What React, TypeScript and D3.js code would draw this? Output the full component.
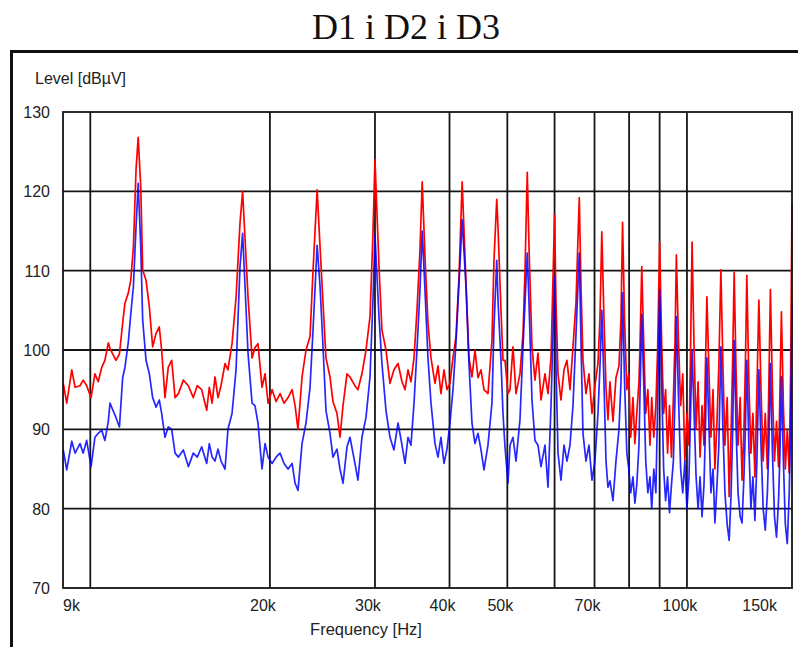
import React from "react";
import * as d3 from "d3";

// Frequency in kHz
const freqKHz: number[] = [
  9.01, 9.13, 9.31, 9.43, 9.61, 9.73, 9.86, 10.03, 10.18, 10.31,
  10.45, 10.58, 10.72, 10.79, 10.9, 11.04, 11.19, 11.33, 11.43, 11.58,
  11.69, 11.81, 11.93, 12.03, 12.15, 12.24, 12.4, 12.56, 12.72, 12.89,
  13.05, 13.17, 13.34, 13.51, 13.69, 13.87, 14.05, 14.32, 14.6, 14.88,
  15.11, 15.37, 15.67, 15.83,
  16.0, 16.18, 16.37, 16.56, 16.82, 17.01, 17.28, 17.55, 17.82, 18.0,
  18.17, 18.38, 18.67, 18.88, 19.1, 19.4, 19.63, 19.86, 20.17, 20.48,
  20.8, 21.12, 21.45, 21.79, 22.04, 22.29, 22.64, 22.99, 23.35, 23.62,
  24.0, 24.27, 24.55, 24.83, 25.22, 25.51, 25.91, 26.21, 26.52, 26.93,
  27.24, 27.77, 28.09, 28.53, 28.98, 29.43, 29.77, 30.0, 30.47, 30.82,
  31.3, 31.79, 32.28, 32.79, 33.3, 33.69, 34.08, 34.47, 34.88, 35.28,
  35.69, 36.0, 36.39, 36.81, 37.24, 37.82, 38.26, 38.7, 39.16, 39.61,
  40.07, 40.54, 41.01, 41.49, 42.0, 42.63, 43.12, 43.62, 44.13, 44.65,
  45.17, 45.69, 46.4, 47.12, 47.49, 48.0, 48.23, 48.79, 49.17, 49.55,
  50.13, 50.52, 51.1, 51.7, 52.5, 53.12, 53.53, 54.0, 54.36, 54.99,
  55.63, 56.28, 56.94, 57.82, 58.5, 59.18, 60.0, 60.33, 60.8, 61.5,
  62.22, 62.94, 63.68, 64.42, 65.17, 66.0, 66.44, 66.95, 67.73, 68.52,
  69.32, 70.12, 70.94, 71.49, 72.0, 72.6, 73.17, 73.73, 74.3, 75.17,
  76.04, 76.93, 77.53, 78.0,
  78.6, 79.3, 79.9, 80.5, 81.2, 81.8, 82.4, 83.1, 83.4, 84.0,
  84.7, 85.3, 86.0, 86.7, 87.3, 88.0, 88.7, 89.3, 90.0,
  90.7, 91.4, 92.1, 92.8, 93.5, 94.2, 94.9, 95.5, 96.0,
  96.8, 97.6, 98.4, 99.2, 100.0, 100.8, 101.4, 102.0,
  102.8, 103.6, 104.4, 105.2, 106.0, 106.8, 107.4, 108.0,
  108.9, 109.7, 110.6, 111.4, 112.3, 113.1, 114.0,
  114.9, 115.8, 116.8, 117.7, 118.6, 119.3, 120.0,
  120.9, 121.8, 122.8, 123.7, 124.6, 125.3, 126.0,
  127.0, 128.0, 129.0, 130.0, 131.0, 132.0,
  133.1, 134.2, 135.3, 136.4, 137.2, 138.0,
  139.1, 140.2, 141.3, 142.4, 143.2, 144.0,
  145.1, 146.2, 147.3, 148.4, 149.2, 150.0,
];

// Red trace level (dBµV)
const redLevel: number[] = [
  95.8, 93.3, 97.5, 95.3, 95.5, 96.2, 95.5, 94, 97, 96,
  97.8, 98.7, 100.9, 100.2, 99.5, 98.7, 99.5, 103.4, 105.9, 107.2,
  108.8, 113, 122.7, 126.8, 120.5, 110.1, 108.8, 105.4, 100.4, 102.1,
  102.9, 100, 94, 97.8, 98.7, 94, 94.5, 96.2, 95.5, 94,
  95.5, 95, 92.4, 95.3,
  93.3, 96.6, 94, 95.5, 98.3, 97.5, 100.8, 106.6, 116, 120,
  114, 106.7, 99, 100.3, 100.8, 95.3, 97, 93.3, 95, 93.5,
  94.5, 93.3, 94, 95, 93, 90, 96.6, 100, 101.7, 110,
  120.2, 113, 105.9, 99, 96.6, 93.5, 92, 89, 93, 97,
  96.6, 95.5, 95, 97, 100, 104.2, 114.7, 124, 110.5, 102.5,
  100, 95.8, 97.5, 98.3, 96, 95, 97.5, 96, 99, 105,
  112.6, 121.2, 111.7, 103.4, 99, 95.8, 98, 94.5, 97.5, 95,
  95.8, 99, 101.7, 109.2, 121.2, 108.4, 99, 96.6, 100, 96.5,
  97.5, 95, 94.5, 101.2, 111.3, 119, 115.5, 105, 98.7, 98.7,
  94.5, 95, 100.4, 94.5, 97, 102, 110, 122.4, 113, 100.4,
  96.2, 99.6, 93.7, 97, 94.5, 99, 117, 106, 97, 93.7,
  97.5, 98.7, 95, 100.4, 106, 119.2, 108, 98.7, 94.5, 97,
  92, 95.5, 98.3, 104, 114.9, 104, 95.3, 91.2, 96, 91,
  96.5, 98, 104, 116.1,
  104, 95, 97, 89, 94, 88.2, 92, 96, 100, 110.5,
  100, 92, 95, 88, 94, 89, 93, 100, 113.6,
  101, 92, 95, 87, 93, 86.5, 94, 101, 112,
  101, 93, 97, 86, 92, 88, 100, 113.6,
  100, 90, 96, 86.5, 93, 88, 98, 106.7,
  97, 89, 95, 85, 91, 98, 110.1,
  98, 88, 94, 81.5, 90, 99, 109.8,
  97, 88, 94, 83.6, 90, 98, 109.4,
  96, 87, 92, 84, 95, 106.3,
  95, 86, 92, 85, 96, 107.6,
  95, 86, 91, 85.3, 95, 104.8,
  93, 85, 90, 84.5, 97, 118.3,
];

// Blue trace level (dBµV)
const blueLevel: number[] = [
  87.4, 84.9, 88.5, 87, 88.2, 87, 88.6, 85.3, 89, 89.5,
  89.9, 88.6, 91, 93.3, 92.5, 91.5, 90.3, 96.5, 97.8, 101,
  104.5, 108, 115.5, 121, 113, 103.8, 98.7, 97, 94, 92.8,
  93.7, 92, 89, 90.3, 90, 87, 86.5, 87.4, 85.3, 87,
  86.5, 87.8, 85.7, 88.2,
  86.5, 86, 87.5, 86, 85, 90, 92, 97.5, 110.5, 114.7,
  108, 99.6, 93.3, 93, 90.8, 85, 88.2, 86.5, 85.7, 86.5,
  87, 85.7, 85, 85.7, 83.2, 82.3, 88.2, 90.8, 95.3, 102.5,
  113.2, 108, 100.4, 92.4, 89.5, 86.5, 87.5, 85, 83.2, 87.8,
  89, 85.7, 83.6, 89, 91.5, 96.6, 106.3, 114.5, 104.2, 98.3,
  92.4, 89, 87.4, 90.8, 88, 85.7, 89, 88, 93.3, 100,
  107.6, 115, 107.5, 99, 93.3, 88.2, 86.5, 89, 85.7, 87.5,
  90.8, 95, 100.9, 108.4, 116.4, 108, 98.3, 90.8, 88.2, 89.5,
  87.4, 84.9, 88, 93.3, 102.9, 111.3, 106.3, 98.7, 92, 87.8,
  83.2, 88, 89, 86, 91.2, 100.4, 106, 112.2, 106, 93.7,
  88.6, 88, 85.3, 88, 82.7, 93, 109.2, 98, 87, 83.6,
  88, 86, 88, 93, 102, 112.2, 101, 89.5, 86, 88,
  83.6, 86, 92, 98, 105, 96, 86, 82.7, 83.5, 81,
  86, 90, 96, 107.2,
  96, 87, 85, 82, 84, 80.7, 83, 88, 94, 104.5,
  95, 86, 82, 84, 80, 85, 82, 93, 107.6,
  96, 85, 81, 84, 79.5, 83, 86, 94, 104.2,
  94, 85, 82, 86, 80, 84, 92, 100,
  92, 84, 80, 84, 79, 83, 90, 99,
  90, 82, 85, 78.2, 83, 88, 100.4,
  90, 82, 78, 76, 82, 90, 101.2,
  90, 82, 79, 78.2, 84, 90, 98.7,
  88, 80, 84, 78.5, 86, 97.5,
  88, 80, 77.3, 82, 88, 98.3,
  87, 79, 76.4, 81, 87, 96.6,
  86, 78, 75.6, 82, 90, 106,
];

const yTicks: number[] = [70, 80, 90, 100, 110, 120, 130];
const xGrid: number[] = [10, 20, 30, 40, 50, 60, 70, 80, 90, 100];
const xTickValues: number[] = [9, 20, 30, 40, 50, 70, 100, 150];
const xTickLabels: string[] = ["9k", "20k", "30k", "40k", "50k", "70k", "100k", "150k"];

export default function App() {
  const W = 798;
  const H = 647;
  const left = 63, right = 792, top = 112, bottom = 588;
  const x = d3.scaleLog().domain([9, 150]).range([left, right]);
  const y = d3.scaleLinear().domain([70, 130]).range([bottom, top]);

  const line = d3
    .line<number>()
    .x((_, i) => x(freqKHz[i]))
    .y((d) => y(d));

  const sans = "'Liberation Sans', Arial, sans-serif";
  const gridColor = "#151515";

  return (
    <svg
      width={W}
      height={H}
      style={{ position: "absolute", left: 0, top: 0, background: "#fff" }}
    >
      <rect x={0} y={0} width={W} height={H} fill="#fff" />
      <text
        x={406}
        y={39}
        textAnchor="middle"
        fontFamily="'Liberation Serif', 'Times New Roman', serif"
        fontSize={36}
        fill="#111"
      >
        D1 i D2 i D3
      </text>
      <rect
        x={11.5}
        y={51.5}
        width={820}
        height={640}
        fill="none"
        stroke="#111"
        strokeWidth={3}
      />
      <text x={35} y={84} fontFamily={sans} fontSize={16} fill="#222">
        Level [dBµV]
      </text>

      {/* grid */}
      {yTicks.slice(1, -1).map((t) => (
        <line
          key={"h" + t}
          x1={left}
          x2={right}
          y1={y(t)}
          y2={y(t)}
          stroke={gridColor}
          strokeWidth={1.8}
        />
      ))}
      {xGrid.map((f) => (
        <line
          key={"v" + f}
          x1={x(f)}
          x2={x(f)}
          y1={top}
          y2={bottom}
          stroke={gridColor}
          strokeWidth={1.8}
        />
      ))}

      {/* traces */}
      <path
        d={line(redLevel) || ""}
        fill="none"
        stroke="#ff0000"
        strokeWidth={1.7}
        strokeLinejoin="round"
      />
      <path
        d={line(blueLevel) || ""}
        fill="none"
        stroke="#0000ff"
        strokeWidth={1.7}
        strokeOpacity={0.85}
        strokeLinejoin="round"
      />

      <rect
        x={left}
        y={top}
        width={right - left}
        height={bottom - top}
        fill="none"
        stroke={gridColor}
        strokeWidth={1.8}
      />

      {/* y tick labels */}
      {yTicks.map((t) => (
        <text
          key={"yl" + t}
          x={50}
          y={y(t) + 6}
          textAnchor="end"
          fontFamily={sans}
          fontSize={16}
          fill="#222"
        >
          {t}
        </text>
      ))}

      {/* x tick labels */}
      {xTickValues.map((f, i) => {
        const last = i === xTickValues.length - 1;
        const first = i === 0;
        const px = first ? x(f) : last ? x(f) - 15 : x(f) - 7;
        return (
          <text
            key={"xl" + f}
            x={px}
            y={611}
            textAnchor={first ? "start" : last ? "end" : "middle"}
            fontFamily={sans}
            fontSize={16}
            fill="#222"
          >
            {xTickLabels[i]}
          </text>
        );
      })}
      <text
        x={366}
        y={635}
        textAnchor="middle"
        fontFamily={sans}
        fontSize={16.5}
        fill="#222"
      >
        Frequency [Hz]
      </text>
    </svg>
  );
}
